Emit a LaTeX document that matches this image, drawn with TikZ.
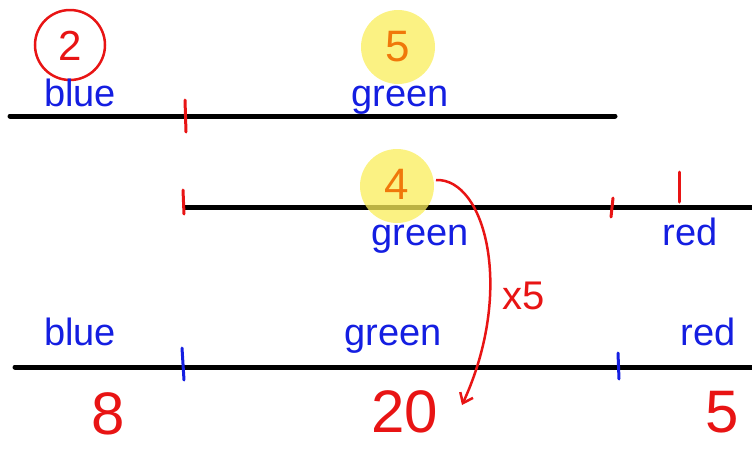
\documentclass[tikz,border=0pt]{standalone}
\usepackage{fontspec}
\setmainfont{Liberation Sans}
\usetikzlibrary{arrows.meta}
\definecolor{pblue}{RGB}{20,30,225}
\definecolor{pred}{RGB}{232,20,20}
\definecolor{porange}{RGB}{240,120,10}
\definecolor{pyellow}{RGB}{250,238,90}
\begin{document}
\begin{tikzpicture}[x=1pt,y=-1pt,
  barline/.style={line width=5pt,line cap=round,black},
  rtick/.style={line width=3pt,line cap=round,pred},
  btick/.style={line width=3pt,line cap=round,pblue},
  word/.style={text=pblue,font=\fontsize{38}{38}\selectfont,inner sep=0pt},
  bignum/.style={text=pred,font=\fontsize{60}{60}\selectfont,inner sep=0pt,anchor=base},
  hilite/.style={circle,fill=pyellow,fill opacity=0.75,minimum size=74pt,inner sep=0pt},
  onum/.style={text=porange,font=\fontsize{44}{44}\selectfont,inner sep=0pt}]
\useasboundingbox (0,0) rectangle (752,448);
% bar lines
\coordinate (a1) at (10,116); \coordinate (a2) at (615,116);
\coordinate (b1) at (185,207); \coordinate (b2) at (752,207);
\coordinate (c1) at (15,367); \coordinate (c2) at (752,367);
\draw[barline] (a1) -- (a2);
\draw[barline] (b1) -- (b2);
\draw[barline] (c1) -- (c2);
% ticks
\coordinate (t1a) at (185,100); \coordinate (t1b) at (186,132);
\draw[rtick] (t1a) -- (t1b);
\coordinate (t2a) at (183,190); \coordinate (t2b) at (184,214);
\draw[rtick] (t2a) -- (t2b);
\coordinate (t3a) at (613,198); \coordinate (t3b) at (611,217);
\draw[rtick] (t3a) -- (t3b);
\coordinate (t4a) at (679,172); \coordinate (t4b) at (679,202);
\draw[rtick] (t4a) -- (t4b);
\coordinate (t5a) at (182,348); \coordinate (t5b) at (184,380);
\draw[btick] (t5a) -- (t5b);
\coordinate (t6a) at (618,353); \coordinate (t6b) at (619,379);
\draw[btick] (t6a) -- (t6b);
% top row
\node[circle,draw=pred,line width=2.5pt,minimum width=70pt,inner sep=0pt] (circ2) at (70,45) {};
\node[text=pred,font=\fontsize{42}{42}\selectfont,inner sep=0pt] (two) at (70,46) {2};
\node[word,anchor=base] (blue1) at (80,106) {blue};
\node[hilite] (hl5) at (398,47) {};
\node[onum] (five) at (398,47) {5};
\node[word,anchor=base] (green1) at (400,106) {green};
% middle row
\node[hilite] (hl4) at (397,186) {};
\node[onum] (four) at (397,184) {4};
\node[word,anchor=base] (green2) at (420,245) {green};
\node[word,anchor=base] (red1) at (690,245) {red};
\node[text=pred,font=\fontsize{40}{40}\selectfont,inner sep=0pt] (times) at (524,296) {x5};
% bottom row
\node[word,anchor=base] (blue2) at (80,345) {blue};
\node[word,anchor=base] (green3) at (393,345) {green};
\node[word,anchor=base] (red2) at (708,345) {red};
\node[bignum] (eight) at (108,434) {8};
\node[bignum] (twenty) at (405,432) {20};
\node[bignum] (fiveb) at (722,432) {5};
% arrow
\coordinate (arrS) at (436,180);
\coordinate (arrE) at (462,405);
\draw[pred,line width=2.5pt,-{Straight Barb[length=9pt,width=14pt]}] (arrS) .. controls (485,178) and (515,290) .. (arrE);
\end{tikzpicture}
\end{document}
